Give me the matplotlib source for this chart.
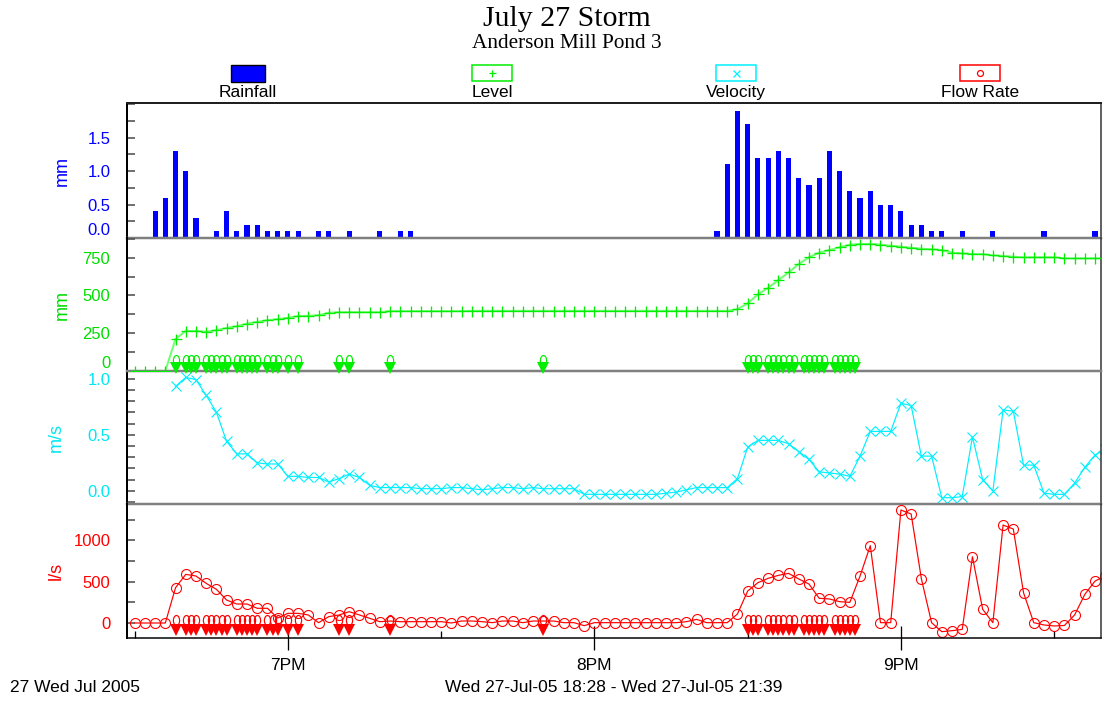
import numpy as np
import pandas as pd
import matplotlib
matplotlib.use("Agg")
import matplotlib.pyplot as plt
import matplotlib.dates as mdates
import matplotlib.ticker as mticker
import matplotlib.transforms as mtransforms
from matplotlib.patches import Rectangle
from matplotlib.path import Path

# ---------------- data ----------------
day = "2005-07-27"
sample_start = "2005-07-27 18:30"      # first logged sample, 2-minute logging

level_mm = [0, 0, 0, 0, 212, 265, 265, 259, 270, 285, 296, 314, 325, 336, 343, 352,
            363, 365, 369, 385, 389, 389, 389, 389, 389, 396, 396, 396, 396, 396, 396, 396,
            396, 398, 398, 398, 398, 398, 398, 398, 398, 398, 398, 398, 398, 398, 398, 398,
            398, 398, 398, 398, 398, 398, 398, 398, 398, 398, 398, 409, 447, 507, 550, 601,
            652, 708, 752, 783, 800, 818, 836, 840, 840, 836, 829, 822, 816, 809, 805, 800,
            783, 778, 774, 773, 765, 761, 756, 752, 752, 752, 752, 745, 745, 745, 745, 745]

velocity_ms = [np.nan, np.nan, np.nan, np.nan, 0.93, 1.01, 0.99, 0.85, 0.70, 0.44, 0.33, 0.33,
               0.25, 0.24, 0.24, 0.13, 0.13, 0.12, 0.12, 0.08, 0.11, 0.15, 0.12, 0.05,
               0.03, 0.03, 0.03, 0.03, 0.02, 0.02, 0.02, 0.03, 0.03, 0.02, 0.01, 0.02,
               0.03, 0.03, 0.02, 0.03, 0.02, 0.02, 0.02, 0.02, -0.03, -0.03, -0.03, -0.03,
               -0.03, -0.03, -0.03, -0.03, -0.02, -0.01, 0.01, 0.03, 0.03, 0.03, 0.03, 0.11,
               0.39, 0.45, 0.45, 0.45, 0.42, 0.35, 0.28, 0.17, 0.16, 0.15, 0.13, 0.31,
               0.53, 0.53, 0.53, 0.78, 0.76, 0.31, 0.31, -0.06, -0.06, -0.05, 0.48, 0.10,
               0.00, 0.72, 0.71, 0.23, 0.23, -0.02, -0.03, -0.03, 0.07, 0.21, 0.32, 0.37]

flow_ls = [0, 0, 0, 0, 427, 589, 569, 480, 408, 278, 230, 230, 178, 178, 60, 117,
           117, 97, 4, 77, 97, 137, 97, 57, 16, 24, 16, 16, 16, 16, 16, 0,
           24, 24, 16, 4, 24, 24, 4, 24, 24, 24, 4, 4, -32, 4, 4, 4,
           4, 4, 4, 4, 4, 4, 16, 44, 4, 4, 4, 109, 387, 488, 541, 577,
           601, 533, 472, 299, 291, 258, 250, 569, 936, 4, 4, 1368, 1320, 537, 4, -105,
           -93, -77, 803, 166, 4, 1186, 1138, 367, 4, -24, -36, -30, 97, 347, 508, 569]

rain_times = ["18:34", "18:36", "18:38", "18:40", "18:42", "18:46", "18:48", "18:50",
              "18:52", "18:54", "18:56", "18:58", "19:00", "19:02", "19:06", "19:08",
              "19:12", "19:18", "19:22", "19:24",
              "20:24", "20:26", "20:28", "20:30", "20:32", "20:34", "20:36", "20:38",
              "20:40", "20:42", "20:44", "20:46", "20:48", "20:50", "20:52", "20:54",
              "20:56", "20:58", "21:00", "21:02", "21:04", "21:06", "21:08", "21:12",
              "21:18", "21:28", "21:38"]
rain_mm = [0.4, 0.6, 1.3, 1.0, 0.3, 0.1, 0.4, 0.1, 0.2, 0.2, 0.1, 0.1, 0.1, 0.1, 0.1, 0.1,
           0.1, 0.1, 0.1, 0.1,
           0.1, 1.1, 1.9, 1.7, 1.2, 1.2, 1.3, 1.2, 0.9, 0.8, 0.9, 1.3, 1.0, 0.7, 0.6, 0.7,
           0.5, 0.5, 0.4, 0.2, 0.2, 0.1, 0.1, 0.1, 0.1, 0.1, 0.1]

flag_times = ["18:38", "18:40", "18:41", "18:42", "18:44", "18:45", "18:46", "18:47",
              "18:48", "18:50", "18:51", "18:52", "18:53", "18:54", "18:56", "18:57",
              "18:58", "19:00", "19:02", "19:10", "19:12", "19:20", "19:50",
              "20:30", "20:31", "20:32", "20:34", "20:35", "20:36", "20:37", "20:38",
              "20:39", "20:41", "20:42", "20:43", "20:44", "20:45", "20:47", "20:48",
              "20:49", "20:50", "20:51"]

x_start = "2005-07-27 18:28:30"
x_end = "2005-07-27 21:39:10"

title = "July 27 Storm"
subtitle = "Anderson Mill Pond 3"
legend_labels = ["Rainfall", "Level", "Velocity", "Flow Rate"]
footer_left = "27 Wed Jul 2005"
footer_center = "Wed 27-Jul-05 18:28 - Wed 27-Jul-05 21:39"

# ---------------- styling ----------------
SANS = ["Liberation Sans", "DejaVu Sans"]
SERIF = ["Liberation Serif", "DejaVu Serif"]
plt.rcParams["font.family"] = SANS

BLUE = "#0000ff"
GREEN = "#00ee00"
GREEN_LINE = "#70ff70"
CYAN = "#00f0ff"
RED = "#ff0000"
GRID_GREY = "#808080"

t_samples = mdates.date2num(pd.date_range(sample_start, periods=len(level_mm), freq="2min").to_pydatetime())
t_rain = mdates.date2num(pd.to_datetime([f"{day} {t}" for t in rain_times]).to_pydatetime())
t_flags = mdates.date2num(pd.to_datetime([f"{day} {t}" for t in flag_times]).to_pydatetime())
xlim = mdates.date2num(pd.to_datetime([x_start, x_end]).to_pydatetime())

W, H = 1105, 702
fig = plt.figure(figsize=(W / 100, H / 100), dpi=100, facecolor="white")

left_px, right_px = 127, 1101
panels_px = [(103, 238), (238, 371), (371, 504), (504, 637.7)]
axes = []
for top, bot in panels_px:
    ax = fig.add_axes([left_px / W, 1 - bot / H, (right_px - left_px) / W, (bot - top) / H])
    ax.set_facecolor("none")
    axes.append(ax)
ax_r, ax_l, ax_v, ax_f = axes
ax_l.set_zorder(3)
ax_f.set_zorder(1)

PX = 0.72  # points per pixel at 100 dpi

for i, ax in enumerate(axes):
    ax.set_xlim(*xlim)
    ax.spines["left"].set_color("black")
    ax.spines["left"].set_linewidth(2 * PX)
    ax.spines["right"].set_color("#303030")
    ax.spines["right"].set_linewidth(1.5 * PX)
    ax.spines["top"].set_visible(i == 0)
    ax.spines["top"].set_color("#202020")
    ax.spines["top"].set_linewidth(2 * PX)
    if i < 3:
        ax.spines["bottom"].set_color(GRID_GREY)
        ax.spines["bottom"].set_linewidth(2.5 * PX)
        ax.tick_params(axis="x", which="both", bottom=False, labelbottom=False)
    else:
        ax.spines["bottom"].set_color("black")
        ax.spines["bottom"].set_linewidth(1.5 * PX)
    ax.tick_params(axis="y", which="both", direction="in", length=8 * PX, width=1.6 * PX,
                   color="#505050", pad=12, labelsize=12)

# ---- rainfall ----
ax_r.bar(t_rain, rain_mm, width=1 / 1440, color=BLUE, edgecolor="none", align="center")
ax_r.set_ylim(0, 2.02)
ax_r.yaxis.set_major_locator(mticker.FixedLocator([0, 0.5, 1.0, 1.5]))
ax_r.yaxis.set_minor_locator(mticker.MultipleLocator(0.25))
ax_r.yaxis.set_major_formatter(mticker.FormatStrFormatter("%.1f"))
ax_r.tick_params(axis="y", labelcolor=BLUE)

# ---- level ----
ax_l.plot(t_samples, level_mm, color=GREEN_LINE, lw=2 * PX, zorder=2)
ax_l.plot(t_samples, level_mm, ls="none", marker="+", ms=11 * PX, mew=1.3 * PX, color=GREEN, zorder=3)
ax_l.set_ylim(0, 880)
ax_l.yaxis.set_major_locator(mticker.FixedLocator([0, 250, 500, 750]))
ax_l.yaxis.set_minor_locator(mticker.MultipleLocator(125))
ax_l.tick_params(axis="y", labelcolor="#00dd00")

# ---- velocity ----
ax_v.plot(t_samples, velocity_ms, color=CYAN, lw=1.2 * PX, marker="x", ms=10 * PX, mew=1.1 * PX,
          mfc="none")
ax_v.set_ylim(-0.116, 1.067)
ax_v.yaxis.set_major_locator(mticker.FixedLocator([0, 0.5, 1.0]))
ax_v.yaxis.set_minor_locator(mticker.MultipleLocator(0.1))
ax_v.yaxis.set_major_formatter(mticker.FormatStrFormatter("%.1f"))
ax_v.tick_params(axis="y", labelcolor="#00e8f0")

# ---- flow ----
ax_f.plot(t_samples, flow_ls, color=RED, lw=1.2 * PX, marker="o", ms=10 * PX, mew=1.1 * PX,
          mfc="none")
ax_f.set_ylim(-178, 1441)
ax_f.yaxis.set_major_locator(mticker.FixedLocator([0, 500, 1000]))
ax_f.yaxis.set_minor_locator(mticker.MultipleLocator(250))
ax_f.tick_params(axis="y", labelcolor=RED)

# flagged-sample markers on level and flow panels ("0" outline above a filled triangle)
circ = Path.unit_circle()
zero_marker = Path(circ.vertices * np.array([0.62, 1.0]), circ.codes)
for ax, col, y0, yv in [(ax_l, GREEN, 0.085, 0.025), (ax_f, RED, 0.132, 0.058)]:
    tr = mtransforms.blended_transform_factory(ax.transData, ax.transAxes)
    ax.plot(t_flags, np.full(len(t_flags), y0), transform=tr, ls="none", marker=zero_marker,
            ms=10 * PX, mew=1.2 * PX, mfc="none", mec=col, clip_on=False, zorder=5)
    ax.plot(t_flags, np.full(len(t_flags), yv), transform=tr, ls="none", marker="v",
            ms=12 * PX, color=col, mec=col, mew=0, clip_on=False, zorder=6)

# lift bottom tick labels of the top two panels (as in original)
for ax in (ax_r, ax_l):
    ax.yaxis.get_major_ticks()[0].label1.set_va("bottom")

# y labels
for ax, txt, col, xp in [(ax_r, "mm", BLUE, -0.066), (ax_l, "mm", "#00dd00", -0.066),
                         (ax_v, "m/s", "#00e8f0", -0.073), (ax_f, "l/s", RED, -0.073)]:
    ax.text(xp, 0.5, txt, transform=ax.transAxes, rotation=90, ha="center", va="center",
            color=col, fontsize=13)

# x axis (time) on bottom panel
ax_f.xaxis.set_major_locator(mdates.HourLocator())
ax_f.xaxis.set_minor_locator(mdates.MinuteLocator(byminute=[30]))
ax_f.xaxis.set_major_formatter(mticker.FuncFormatter(
    lambda v, p: f"{(mdates.num2date(v).hour % 12) or 12}PM"))
ax_f.tick_params(axis="x", which="major", direction="inout", length=24 * PX, width=1.3 * PX,
                 color="black", labelsize=12.5, pad=6)
ax_f.tick_params(axis="x", which="minor", direction="in", length=7 * PX, width=1.3 * PX,
                 color="black")

# ---- titles, legend and footers (figure-pixel overlay) ----
ov = fig.add_axes([0, 0, 1, 1], zorder=10)
ov.set_xlim(0, W)
ov.set_ylim(H, 0)
ov.axis("off")
ov.patch.set_visible(False)

ov.text(567, 19, title, family=SERIF, fontsize=21.5, ha="center", va="center")
ov.text(567, 44, subtitle, family=SERIF, fontsize=15.3, ha="center", va="center")

leg_x = [248, 492, 736, 980]
leg_style = [("box", BLUE), ("+", GREEN), ("x", CYAN), ("o", RED)]
for x, lab, (m, col) in zip(leg_x, legend_labels, leg_style):
    if m == "box":
        ov.add_patch(Rectangle((x - 17, 64.5), 34, 17, facecolor=BLUE, edgecolor="black", lw=1))
    else:
        ov.add_patch(Rectangle((x - 20, 64.5), 40, 16, facecolor="white", edgecolor=col, lw=1.1))
        ov.plot([x], [72.5], marker=m, ms=7 * PX if m != "o" else 6 * PX, color=col,
                mfc="none", mew=0.9)
    ov.text(x, 97, lab, fontsize=12.5, ha="center", va="baseline")

ov.text(10, 688, footer_left, fontsize=12.5, ha="left", va="center")
ov.text((left_px + right_px) / 2, 688, footer_center, fontsize=12.5, ha="center", va="center")

fig.savefig("out.png", dpi=100, facecolor="white")
